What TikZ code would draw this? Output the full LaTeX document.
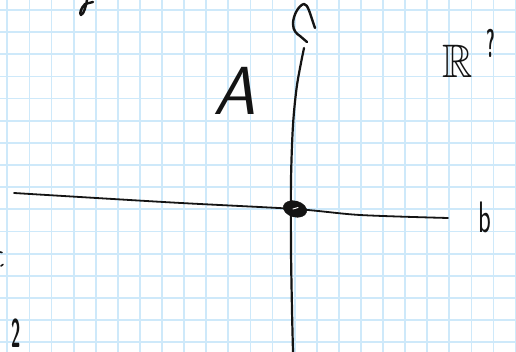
\documentclass[tikz,border=0pt]{standalone}
\usepackage{fontspec}
\usepackage{amssymb}
\usetikzlibrary{shapes.geometric}
\definecolor{gridblue}{RGB}{206,233,250}
\definecolor{ink}{RGB}{20,20,20}
\begin{document}
\begin{tikzpicture}[x=1pt,y=-1pt,
  gridline/.style={draw=gridblue,line width=1.8pt},
  axisline/.style={draw=ink,line width=1.8pt,line cap=round,line join=round},
  inkstroke/.style={draw=ink,line width=2.4pt,line cap=round,line join=round},
  hand/.style={inner sep=0pt,text=ink,font=\sffamily}]
\useasboundingbox[fill=white] (0,0) rectangle (516,352);
% grid
\foreach \i in {0,...,23} \draw[gridline] ({7.3+22.1*\i},0) -- ({7.3+22.1*\i},352);
\foreach \j in {0,...,15} \draw[gridline] (0,{10+22.15*\j}) -- (516,{10+22.15*\j});
% axes
\coordinate (hl) at (14,193);
\coordinate (hr) at (448,218);
\coordinate (vt) at (304,48);
\coordinate (vb) at (293,352);
\draw[axisline] plot[smooth] coordinates {(14,193) (172,202.5) (295,209) (360,215) (448,218)};
\draw[axisline,line width=2.2pt] plot[smooth] coordinates {(304,48) (297,85) (293,125) (291,180) (291,250) (292,310) (293,352)};
% origin dot
\node[draw=ink,fill=ink,ellipse,minimum width=24pt,minimum height=16pt,inner sep=0pt,rotate=-15] (o) at (295,209) {};
\draw[white,line width=1pt,line cap=round] (293,209) -- (298,207.5);
% loop at top of vertical axis
\draw[inkstroke] (315,28) .. controls (310,14) and (308,4) .. (304,4) .. controls (299,5) and (293,15) .. (293,24) .. controls (293,31) and (297,34) .. (300,36) -- (307,42);
% labels
\node[hand,font=\sffamily\slshape\fontsize{68}{68}\selectfont] (A) at (235,91) {A};
\node[hand,font=\sffamily\fontsize{44}{44}\selectfont] (b) at (485,217) {\scalebox{0.6}[1]{b}};
\node[hand,font=\sffamily\bfseries\fontsize{40}{40}\selectfont] (two) at (16,333) {\scalebox{0.42}[1]{2}};
\node[hand] (R) at (458,61) {\scalebox{4.2}[4.7]{$\mathbb{R}$}};
\node[hand,font=\sffamily\bfseries\fontsize{40}{40}\selectfont] (q) at (491,43) {\scalebox{0.42}[1]{?}};
% partial marks at the edges
\draw[inkstroke] (93,2) -- (85,4) .. controls (81,8) and (79,14) .. (81,15) .. controls (84,14) and (86,6) .. (87,0);
\draw[inkstroke,line width=1.6pt] (0,252) -- (2,252.5);
\draw[inkstroke,line width=1.6pt] (1,266) -- (3,264.5);
\end{tikzpicture}
\end{document}
